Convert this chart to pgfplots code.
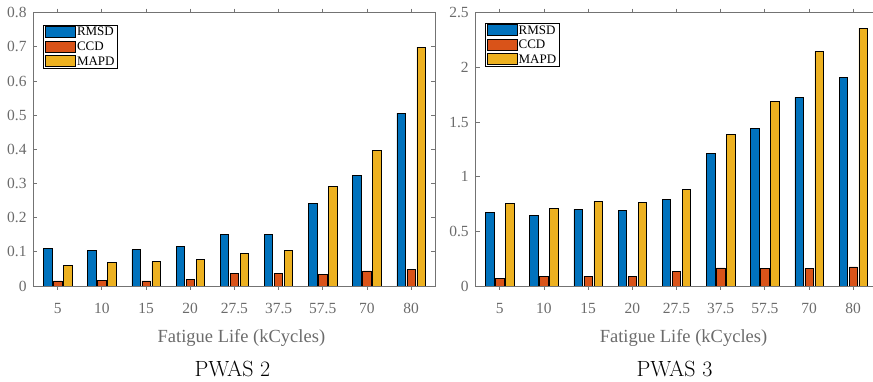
\documentclass[border=0pt]{standalone}
\usepackage{fontspec}
\usepackage{pgfplots}
\usepackage{pgfplotstable}
\pgfplotsset{compat=1.18}
\newfontfamily\tnr{Liberation Serif}
\definecolor{mblue}{rgb}{0,0.447,0.741}
\definecolor{mred}{rgb}{0.85,0.325,0.098}
\definecolor{myellow}{rgb}{0.929,0.694,0.125}
\definecolor{axgray}{rgb}{0.45,0.45,0.45}
\definecolor{txtgray}{rgb}{0.42,0.42,0.42}

\pgfplotstableread{
x rmsd ccd mapd
1 0.109 0.015 0.060
2 0.105 0.017 0.069
3 0.106 0.015 0.071
4 0.116 0.020 0.077
5 0.152 0.037 0.095
6 0.151 0.036 0.104
7 0.242 0.035 0.292
8 0.323 0.044 0.396
9 0.506 0.048 0.699
}\pwastwo

\pgfplotstableread{
x rmsd ccd mapd
1 0.674 0.073 0.756
2 0.646 0.091 0.710
3 0.701 0.091 0.774
4 0.692 0.091 0.768
5 0.793 0.131 0.884
6 1.210 0.165 1.384
7 1.442 0.162 1.686
8 1.726 0.162 2.146
9 1.909 0.174 2.360
}\pwasthree

\pgfplotsset{mystyle/.style={
 scale only axis, width=402pt, height=273.3pt,
 xmin=0.45, xmax=9.55, ymin=0,
 xtick={1,...,9}, xticklabels={5,10,15,20,27.5,37.5,57.5,70,80},
 tick align=inside, major tick length=4pt, xtick pos=both, ytick pos=both,
 axis line style={axgray, line width=0.8pt},
 every tick/.style={axgray, line width=0.8pt},
 tick label style={font=\tnr\fontsize{15.5}{15.5}\selectfont, text=txtgray},
 /pgf/number format/assume math mode=true,
 /pgf/number format/fixed,
 xticklabel style={anchor=base, inner sep=0pt, yshift=-23.3pt},
 yticklabel style={anchor=east, inner sep=0pt, xshift=-6.6pt},
 xlabel={Fatigue Life (kCycles)},
 xlabel style={font=\tnr\fontsize{18.5}{18.5}\selectfont, text=txtgray, at={(axis description cs:0.5,0)}, anchor=base, yshift=-57pt, xshift=7pt},
 title style={font=\fontsize{22}{22}\selectfont, at={(axis description cs:0.5,0)}, anchor=base, yshift=-97pt, xshift=-2pt},
 ybar, bar width=0.19,
 legend cell align=left,
 legend style={anchor=north west, draw=black, line width=0.6pt, fill=white,
   font=\tnr\fontsize{13}{13}\selectfont, inner xsep=1.7pt, inner ysep=0.8pt, row sep=2.3pt,
   nodes={inner sep=1pt}},
 legend image code/.code={\draw[##1] (0pt,-5pt) rectangle (30pt,6pt);},
 every axis plot/.append style={draw=black, line width=0.6pt},
}}

\begin{document}
\begin{tikzpicture}
\begin{axis}[mystyle, at={(33.4pt,96pt)}, anchor=south west,
  ymax=0.8, ytick={0,0.1,0.2,0.3,0.4,0.5,0.6,0.7,0.8},
  title={PWAS 2},
  legend style={at={(0.0249,0.955)}}]
\addplot[fill=mblue, bar shift=-0.226] table[x=x, y=rmsd] {\pwastwo};
\addplot[fill=mred, bar shift=0] table[x=x, y=ccd] {\pwastwo};
\addplot[fill=myellow, bar shift=0.226] table[x=x, y=mapd] {\pwastwo};
\legend{RMSD,CCD,MAPD}
\end{axis}
\begin{axis}[mystyle, at={(475.5pt,96pt)}, anchor=south west,
  ymax=2.5, ytick={0,0.5,1,1.5,2,2.5},
  title={PWAS 3},
  legend style={at={(0.0236,0.962)}}]
\addplot[fill=mblue, bar shift=-0.226] table[x=x, y=rmsd] {\pwasthree};
\addplot[fill=mred, bar shift=0] table[x=x, y=ccd] {\pwasthree};
\addplot[fill=myellow, bar shift=0.226] table[x=x, y=mapd] {\pwasthree};
\legend{RMSD,CCD,MAPD}
\end{axis}
\pgfresetboundingbox
\useasboundingbox (0pt,0pt) rectangle (873pt,382pt);
\end{tikzpicture}
\end{document}
